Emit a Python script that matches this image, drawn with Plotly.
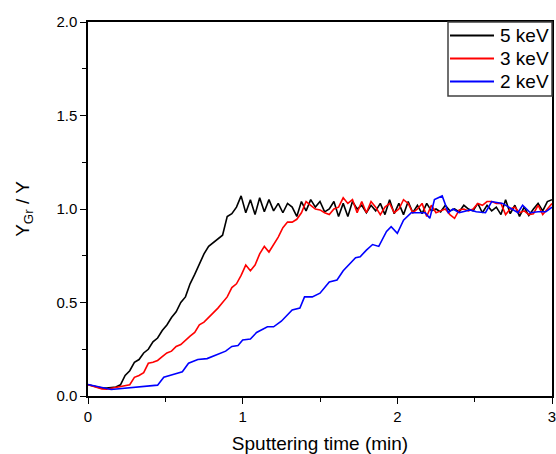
import plotly.graph_objects as go

# Sputtering time (min)
time_5kev = [0.00, 0.03, 0.06, 0.09, 0.12, 0.15, 0.18, 0.21, 0.24, 0.27,
             0.30, 0.33, 0.36, 0.39, 0.42, 0.45, 0.48, 0.51, 0.54, 0.57,
             0.60, 0.63, 0.66, 0.69, 0.72, 0.75, 0.78, 0.81, 0.84, 0.87,
             0.90, 0.93, 0.96, 0.99, 1.02, 1.05, 1.08, 1.11, 1.14, 1.17,
             1.20, 1.23, 1.26, 1.29, 1.32, 1.35, 1.38, 1.41, 1.44, 1.47,
             1.50, 1.53, 1.56, 1.59, 1.62, 1.65, 1.68, 1.71, 1.74, 1.77,
             1.80, 1.83, 1.86, 1.89, 1.92, 1.95, 1.98, 2.01, 2.04, 2.07,
             2.10, 2.13, 2.16, 2.19, 2.22, 2.25, 2.28, 2.31, 2.34, 2.37,
             2.40, 2.43, 2.46, 2.49, 2.52, 2.55, 2.58, 2.61, 2.64, 2.67,
             2.70, 2.73, 2.76, 2.79, 2.82, 2.85, 2.88, 2.91, 2.94, 2.97, 3.00]
ratio_5kev = [0.060, 0.055, 0.048, 0.042, 0.043, 0.046, 0.048, 0.060, 0.110, 0.135,
              0.180, 0.195, 0.230, 0.250, 0.290, 0.310, 0.350, 0.380, 0.420, 0.450,
              0.500, 0.530, 0.600, 0.650, 0.710, 0.760, 0.800, 0.820, 0.840, 0.860,
              0.960, 0.975, 1.010, 1.070, 0.980, 1.050, 0.970, 1.060, 0.985, 1.050,
              0.990, 1.030, 0.980, 1.030, 1.010, 0.960, 1.040, 0.990, 1.050, 1.010,
              1.040, 0.985, 1.000, 1.040, 0.960, 1.030, 0.960, 1.040, 1.000, 1.020,
              0.980, 1.020, 0.990, 1.030, 0.970, 1.050, 0.975, 1.030, 0.970, 1.040,
              0.980, 1.020, 0.975, 1.030, 0.990, 1.000, 0.985, 1.020, 0.990, 1.000,
              0.985, 1.020, 1.000, 0.990, 1.030, 0.980, 1.020, 0.990, 1.010, 0.970,
              1.050, 0.975, 1.020, 0.960, 1.010, 0.965, 1.000, 1.030, 0.990, 1.040, 1.050]

time_3kev = list(time_5kev)
ratio_3kev = [0.060, 0.052, 0.045, 0.038, 0.036, 0.040, 0.045, 0.050, 0.055, 0.060,
              0.100, 0.110, 0.125, 0.175, 0.180, 0.190, 0.210, 0.230, 0.240, 0.265,
              0.275, 0.300, 0.320, 0.340, 0.380, 0.395, 0.420, 0.440, 0.470, 0.500,
              0.530, 0.580, 0.600, 0.645, 0.700, 0.670, 0.700, 0.760, 0.800, 0.770,
              0.810, 0.850, 0.900, 0.930, 0.930, 0.945, 0.980, 1.040, 1.020, 1.000,
              0.995, 0.980, 0.970, 1.000, 1.010, 1.060, 1.030, 1.050, 0.980, 1.040,
              0.980, 1.040, 1.010, 0.970, 1.010, 1.030, 0.980, 1.000, 1.050, 1.030,
              0.980, 1.000, 1.030, 0.960, 1.020, 0.980, 0.990, 1.000, 0.970, 0.950,
              0.995, 1.000, 0.990, 1.000, 1.030, 1.020, 1.040, 1.040, 1.030, 1.030,
              0.970, 1.000, 1.010, 0.980, 0.990, 0.970, 0.975, 1.020, 0.970, 1.000, 1.030]

time_2kev = [0.00, 0.15, 0.45, 0.49, 0.55, 0.61, 0.65, 0.71, 0.77, 0.83,
             0.89, 0.93, 0.97, 1.00, 1.05, 1.09, 1.16, 1.20, 1.25, 1.32,
             1.37, 1.40, 1.45, 1.50, 1.56, 1.61, 1.65, 1.73, 1.76, 1.80,
             1.84, 1.88, 1.93, 1.96, 2.00, 2.04, 2.09, 2.13, 2.18, 2.21,
             2.24, 2.29, 2.33, 2.36, 2.40, 2.47, 2.51, 2.57, 2.61, 2.68,
             2.75, 2.78, 2.81, 2.86, 2.91, 2.96, 3.00]
ratio_2kev = [0.062, 0.035, 0.058, 0.100, 0.115, 0.130, 0.175, 0.195, 0.200, 0.220,
              0.240, 0.265, 0.270, 0.300, 0.305, 0.340, 0.370, 0.370, 0.400, 0.460,
              0.470, 0.530, 0.530, 0.550, 0.610, 0.620, 0.670, 0.740, 0.745, 0.780,
              0.810, 0.800, 0.880, 0.905, 0.870, 0.940, 0.980, 0.980, 0.980, 0.950,
              1.050, 1.070, 0.980, 1.000, 0.980, 0.995, 0.985, 0.980, 1.040, 1.030,
              0.995, 0.980, 1.020, 0.980, 0.985, 0.985, 1.010]

series_names = ["5 keV", "3 keV", "2 keV"]
series_colors = ["#000000", "#ff0000", "#0000ff"]

x_ticks = [0, 1, 2, 3]
x_tick_labels = ["0", "1", "2", "3"]
y_ticks = [0.0, 0.5, 1.0, 1.5, 2.0]
y_tick_labels = ["0.0", "0.5", "1.0", "1.5", "2.0"]

FONT = "Liberation Sans, Arial, sans-serif"

# figure geometry (pixels)
W, H = 556, 454
ML, MR, MT, MB = 88, 4, 22, 58
PW, PH = W - ML - MR, H - MT - MB


def px(xp):
    return (xp - ML) / PW


def py(yp):
    return (H - MB - yp) / PH


fig = go.Figure()
for xs, ys, name, color in zip([time_5kev, time_3kev, time_2kev],
                               [ratio_5kev, ratio_3kev, ratio_2kev],
                               series_names, series_colors):
    fig.add_trace(go.Scatter(x=xs, y=ys, mode="lines", name=name,
                             line=dict(color=color, width=1.6), showlegend=False))

axis_common = dict(showline=True, linecolor="black", linewidth=1.5, mirror=True,
                   ticks="outside", ticklen=6, tickwidth=1.2, tickcolor="black",
                   showgrid=False, zeroline=False, automargin=False,
                   ticklabeloverflow="allow",
                   tickfont=dict(family=FONT, size=15, color="black"))

fig.update_xaxes(range=[0, 3], tickvals=x_ticks, ticktext=x_tick_labels,
                 minor=dict(tickvals=[0.5, 1.5, 2.5], ticks="outside", ticklen=4,
                            tickwidth=1.2, tickcolor="black"),
                 title=dict(text="Sputtering time (min)",
                            font=dict(family=FONT, size=19, color="black"), standoff=14),
                 **axis_common)
fig.update_yaxes(range=[0, 2], tickvals=y_ticks, ticktext=y_tick_labels,
                 minor=dict(tickvals=[0.25, 0.75, 1.25, 1.75], ticks="outside", ticklen=4,
                            tickwidth=1.2, tickcolor="black"),
                 title=dict(text="Y<sub>Gr</sub> / Y",
                            font=dict(family=FONT, size=19, color="black"), standoff=22),
                 **axis_common)

# legend box drawn in paper coordinates
LEG_L, LEG_R, LEG_T, LEG_B = 448, 552, 22, 96
fig.add_shape(type="rect", xref="paper", yref="paper",
              x0=px(LEG_L), x1=px(LEG_R), y0=py(LEG_B), y1=py(LEG_T),
              line=dict(color="#404040", width=1.5), fillcolor="white", layer="above")
for i, (name, color) in enumerate(zip(series_names, series_colors)):
    yc = 35.5 + 23 * i
    fig.add_shape(type="line", xref="paper", yref="paper",
                  x0=px(450), x1=px(494), y0=py(yc), y1=py(yc),
                  line=dict(color=color, width=1.8), layer="above")
    fig.add_annotation(xref="paper", yref="paper", x=px(498), y=py(yc),
                       xanchor="left", yanchor="middle", text=name, showarrow=False,
                       font=dict(family=FONT, size=19, color="black"))

fig.update_layout(
    width=W, height=H,
    margin=dict(l=ML, r=MR, t=MT, b=MB),
    paper_bgcolor="white", plot_bgcolor="white",
    font=dict(family=FONT, color="black"),
    showlegend=False,
)

fig.write_html("out.html")
